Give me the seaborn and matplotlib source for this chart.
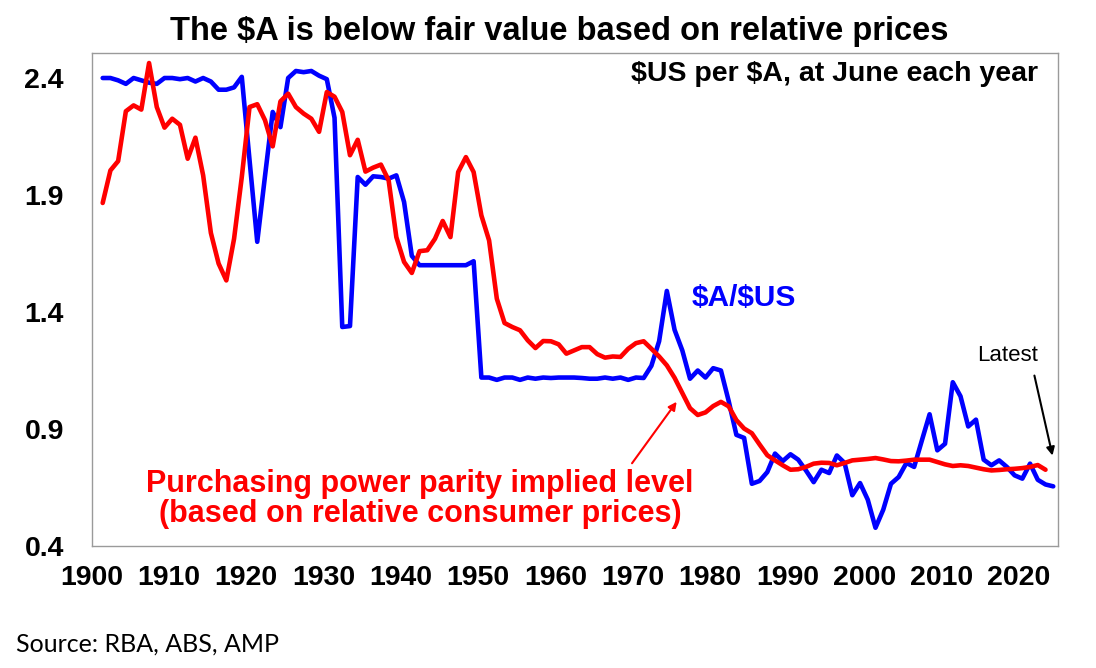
import numpy as np
import pandas as pd
import seaborn as sns
import matplotlib.pyplot as plt

# $US per $A at June each year
aud_usd = [2.40, 2.40, 2.39, 2.375, 2.40, 2.39, 2.38, 2.375, 2.40, 2.40,
           2.395, 2.40, 2.385, 2.40, 2.385, 2.35, 2.35, 2.36, 2.405, 2.05,
           1.70, 1.98, 2.255, 2.19, 2.40, 2.43, 2.425, 2.43, 2.41, 2.395,
           2.23, 1.336, 1.34, 1.977, 1.944, 1.98, 1.977, 1.97, 1.984, 1.87,
           1.64, 1.60, 1.60, 1.60, 1.60, 1.60, 1.60, 1.60, 1.617, 1.12,
           1.12, 1.11, 1.12, 1.12, 1.11, 1.12, 1.115, 1.12, 1.118, 1.12,
           1.12, 1.12, 1.118, 1.115, 1.115, 1.12, 1.115, 1.12, 1.11, 1.12,
           1.118, 1.17, 1.275, 1.49, 1.324, 1.236, 1.115, 1.15, 1.12, 1.16,
           1.15, 1.02, 0.875, 0.862, 0.666, 0.678, 0.716, 0.795, 0.763, 0.792,
           0.769, 0.723, 0.673, 0.726, 0.712, 0.787, 0.755, 0.617, 0.669, 0.598,
           0.478, 0.555, 0.666, 0.695, 0.755, 0.738, 0.851, 0.963, 0.809, 0.837,
           1.10, 1.04, 0.911, 0.94, 0.769, 0.745, 0.766, 0.738, 0.702, 0.688,
           0.752, 0.683, 0.663, 0.655]

# purchasing power parity implied level
ppp = [1.866, 2.005, 2.045, 2.258, 2.283, 2.265, 2.464, 2.276, 2.188, 2.226,
       2.20, 2.055, 2.145, 1.984, 1.738, 1.607, 1.535, 1.713, 1.977, 2.276,
       2.288, 2.22, 2.108, 2.30, 2.333, 2.276, 2.248, 2.226, 2.17, 2.34,
       2.32, 2.255, 2.07, 2.136, 2.00, 2.017, 2.03, 1.963, 1.72, 1.614,
       1.567, 1.66, 1.664, 1.713, 1.789, 1.72, 1.998, 2.062, 1.998, 1.813,
       1.706, 1.457, 1.353, 1.336, 1.322, 1.279, 1.246, 1.276, 1.275, 1.262,
       1.222, 1.236, 1.25, 1.25, 1.22, 1.205, 1.21, 1.208, 1.243, 1.267,
       1.275, 1.243, 1.21, 1.172, 1.119, 1.054, 0.989, 0.96, 0.971, 0.998,
       1.016, 0.997, 0.938, 0.902, 0.882, 0.834, 0.788, 0.766, 0.745, 0.726,
       0.728, 0.738, 0.752, 0.756, 0.755, 0.745, 0.755, 0.766, 0.769, 0.772,
       0.776, 0.77, 0.763, 0.762, 0.765, 0.769, 0.769, 0.769, 0.759, 0.749,
       0.742, 0.745, 0.742, 0.735, 0.728, 0.723, 0.725, 0.728, 0.73, 0.733,
       0.738, 0.746, 0.726]

first_year = 1901
y_ticks = [0.4, 0.9, 1.4, 1.9, 2.4]
x_ticks = list(range(1900, 2021, 10))

# June observations sit part way through each year
fx_df = pd.DataFrame({"year": np.arange(first_year, first_year + len(aud_usd)) + 5 / 12,
                      "value": aud_usd})
ppp_df = pd.DataFrame({"year": np.arange(first_year, first_year + len(ppp)) + 5 / 12,
                       "value": ppp})

sns.set_style("white")
plt.rcParams["font.family"] = ["Liberation Sans", "DejaVu Sans"]
plt.rcParams["text.parse_math"] = False
plt.rcParams["text.color"] = "black"

fig = plt.figure(figsize=(10.96, 6.68), dpi=100)
ax = fig.add_axes([0.0837, 0.1826, 0.8814, 0.7374])

sns.lineplot(data=fx_df, x="year", y="value", color="#0000FF", linewidth=3.3, ax=ax, zorder=2)
sns.lineplot(data=ppp_df, x="year", y="value", color="#FF0000", linewidth=3.3, ax=ax, zorder=3)

ax.set_xlim(1900, 2025)
ax.set_ylim(0.4, 2.505)
ax.set_xticks(x_ticks)
ax.set_yticks(y_ticks)
ax.set_yticklabels([f"{v:.1f}" for v in y_ticks])
ax.set_xlabel("")
ax.set_ylabel("")
for s in ax.spines.values():
    s.set_color("#9a9a9a")
    s.set_linewidth(1)
ax.tick_params(axis="both", colors="#9a9a9a", width=1, labelsize=20.5, labelcolor="black")
ax.tick_params(axis="x", length=5, pad=9)
ax.tick_params(axis="y", length=7, pad=13)
for lab in ax.get_xticklabels() + ax.get_yticklabels():
    lab.set_fontweight("bold")

fig.text(0.5105, 0.940, "The $A is below fair value based on relative prices",
         ha="center", va="baseline", fontsize=23.5, fontweight="bold", color="black")
ax.text(0.9796, 0.9438, "$US per $A, at June each year", transform=ax.transAxes,
        ha="right", va="baseline", fontsize=20.5, fontweight="bold", color="black")
ax.text(0.6214, 0.487, "$A/$US", transform=ax.transAxes, ha="left", va="baseline",
        fontsize=21.5, fontweight="bold", color="#0000FF")
ax.text(0.34, 0.109, "Purchasing power parity implied level", transform=ax.transAxes,
        ha="center", va="baseline", fontsize=22, fontweight="bold", color="#FF0000")
ax.text(0.34, 0.0493, "(based on relative consumer prices)", transform=ax.transAxes,
        ha="center", va="baseline", fontsize=22, fontweight="bold", color="#FF0000")
ax.text(0.9166, 0.376, "Latest", transform=ax.transAxes, ha="left", va="baseline",
        fontsize=16, color="black")

ax.annotate("", xy=(1975.9, 1.026), xytext=(1969.7, 0.744),
            arrowprops=dict(arrowstyle="-|>", color="#FF0000", lw=1.5, mutation_scale=12))
ax.annotate("", xy=(2024.4, 0.775), xytext=(2021.9, 1.14),
            arrowprops=dict(arrowstyle="-|>", color="black", lw=1.5, mutation_scale=12))

fig.text(0.0146, 0.0244, "Source: RBA, ABS, AMP", ha="left", va="baseline",
         fontsize=18, family=["Lato", "DejaVu Sans"], color="black")

fig.savefig("out.png", dpi=100)
